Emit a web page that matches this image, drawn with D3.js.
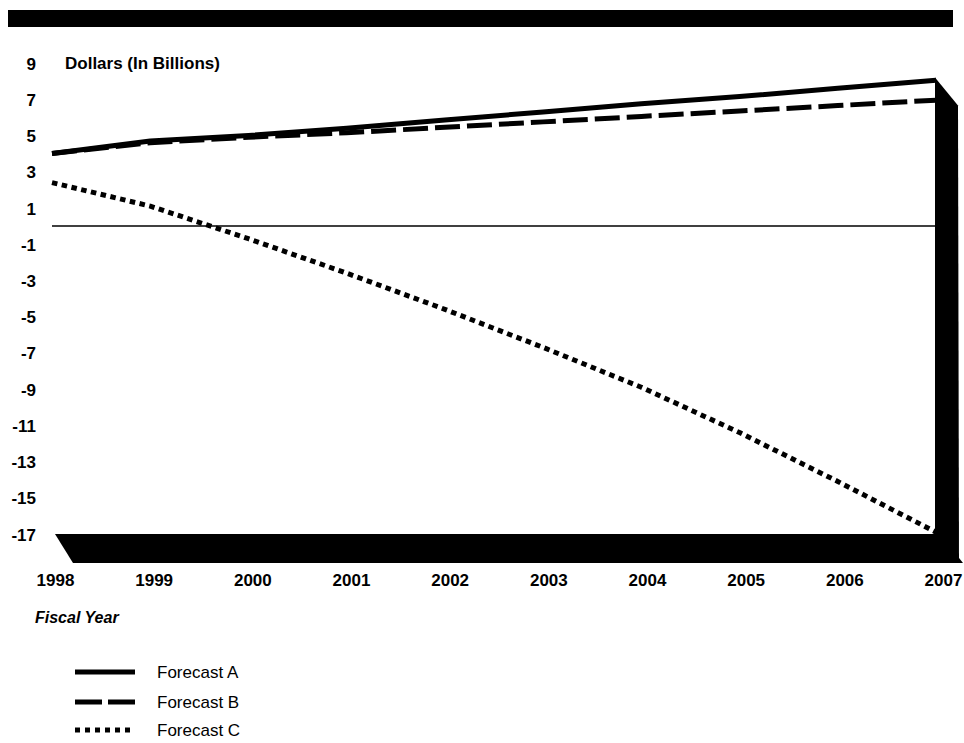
<!DOCTYPE html>
<html>
<head>
<meta charset="utf-8">
<script src="https://cdn.jsdelivr.net/npm/d3@7"></script>
<style>
  html, body { margin: 0; padding: 0; background: #fff; }
  svg { display: block; }
  text { font-family: "Liberation Sans", Arial, Helvetica, sans-serif; fill: #000; }
</style>
</head>
<body>
<svg id="chart" width="964" height="743"></svg>
<script>
// Fiscal years on the horizontal axis
const years = [1998, 1999, 2000, 2001, 2002, 2003, 2004, 2005, 2006, 2007];

// Forecast series, dollars in billions
const forecastA = [4.0, 4.7, 5.0, 5.4, 5.85, 6.3, 6.75, 7.15, 7.6, 8.05];
const forecastB = [4.0, 4.6, 4.9, 5.15, 5.45, 5.75, 6.05, 6.35, 6.65, 6.95];
const forecastC = [2.4, 1.1, -0.7, -2.6, -4.6, -6.7, -8.9, -11.4, -14.1, -16.9];

// Vertical tick labels
const yTicks = [9, 7, 5, 3, 1, -1, -3, -5, -7, -9, -11, -13, -15, -17];

const seriesNames = ["Forecast A", "Forecast B", "Forecast C"];
const seriesValues = [forecastA, forecastB, forecastC];
const seriesDash = [null, "25,7", "5.5,4.5"];

const svg = d3.select("#chart");

// Back wall of the plot and its scales
const x = d3.scalePoint().domain(years).range([52, 936]);
const xFront = d3.scalePoint().domain(years).range([55, 943]);
const y = d3.scaleLinear().domain([-17, 9]).range([534, 63]);

// Plain integer labels with an ASCII hyphen for negatives
const intLabel = d => String(d);

// Heavy rule across the top
svg.append("rect")
  .attr("x", 8).attr("y", 10).attr("width", 945).attr("height", 17)
  .attr("fill", "#000");

// Zero reference line
svg.append("line")
  .attr("x1", x(1998)).attr("x2", x(2007))
  .attr("y1", y(0)).attr("y2", y(0))
  .attr("stroke", "#000").attr("stroke-width", 1.6);

// Floor slab (3D base)
const floorBack = y(-17);
const floorFront = 563;
svg.append("path")
  .attr("d", d3.line()([
    [xFront(1998), floorBack],
    [x(2007) + 4, floorBack],
    [963, floorFront],
    [xFront(1998) + 18, floorFront]
  ]) + "Z")
  .attr("fill", "#000");

// Right side wall (3D)
const wallTop = y(8.2);
svg.append("path")
  .attr("d", d3.line()([
    [x(2007) - 1, wallTop],
    [958, wallTop + 28],
    [959, floorFront],
    [x(2007) - 1, floorFront]
  ]) + "Z")
  .attr("fill", "#000");

// Series lines
const line = d3.line()
  .x((d, i) => x(years[i]))
  .y(d => y(d));

seriesValues.forEach((vals, k) => {
  const p = svg.append("path")
    .datum(vals)
    .attr("d", line)
    .attr("fill", "none")
    .attr("stroke", "#000")
    .attr("stroke-width", 5)
    .attr("stroke-linecap", "butt")
    .attr("stroke-linejoin", "round");
  if (seriesDash[k]) p.attr("stroke-dasharray", seriesDash[k]);
});

// Y axis labels (right-aligned, no axis line)
const yAxis = d3.axisLeft(y).tickValues(yTicks).tickSize(0).tickPadding(0)
  .tickFormat(intLabel);
const gy = svg.append("g").attr("transform", "translate(36,0)").call(yAxis);
gy.select(".domain").remove();
gy.selectAll("text")
  .attr("font-size", 17).attr("font-weight", "bold")
  .attr("font-family", "Liberation Sans, Arial, sans-serif")
  .attr("fill", "#000")
  .attr("dy", "0.36em");

// Unit caption next to the top tick
svg.append("text")
  .attr("x", 65).attr("y", y(9)).attr("dy", "0.36em")
  .attr("font-size", 17).attr("font-weight", "bold")
  .text("Dollars (In Billions)");

// X axis labels under the floor slab
const xAxis = d3.axisBottom(xFront).tickSize(0).tickPadding(0)
  .tickFormat(intLabel);
const gx = svg.append("g").attr("transform", "translate(0,574)").call(xAxis);
gx.select(".domain").remove();
gx.selectAll("text")
  .attr("font-size", 17).attr("font-weight", "bold")
  .attr("font-family", "Liberation Sans, Arial, sans-serif")
  .attr("fill", "#000");

// Axis title
svg.append("text")
  .attr("x", 35).attr("y", 623)
  .attr("font-size", 16).attr("font-weight", "bold").attr("font-style", "italic")
  .text("Fiscal Year");

// Legend
const legendY = [672, 702, 730];
const legend = svg.append("g");
seriesNames.forEach((name, k) => {
  const l = legend.append("line")
    .attr("x1", 75).attr("x2", 135)
    .attr("y1", legendY[k]).attr("y2", legendY[k])
    .attr("stroke", "#000").attr("stroke-width", 5);
  if (k === 1) l.attr("stroke-dasharray", "27,6");
  if (k === 2) l.attr("stroke-dasharray", "5,5");
  legend.append("text")
    .attr("x", 157).attr("y", legendY[k]).attr("dy", "0.36em")
    .attr("font-size", 17)
    .text(name);
});
</script>
</body>
</html>
